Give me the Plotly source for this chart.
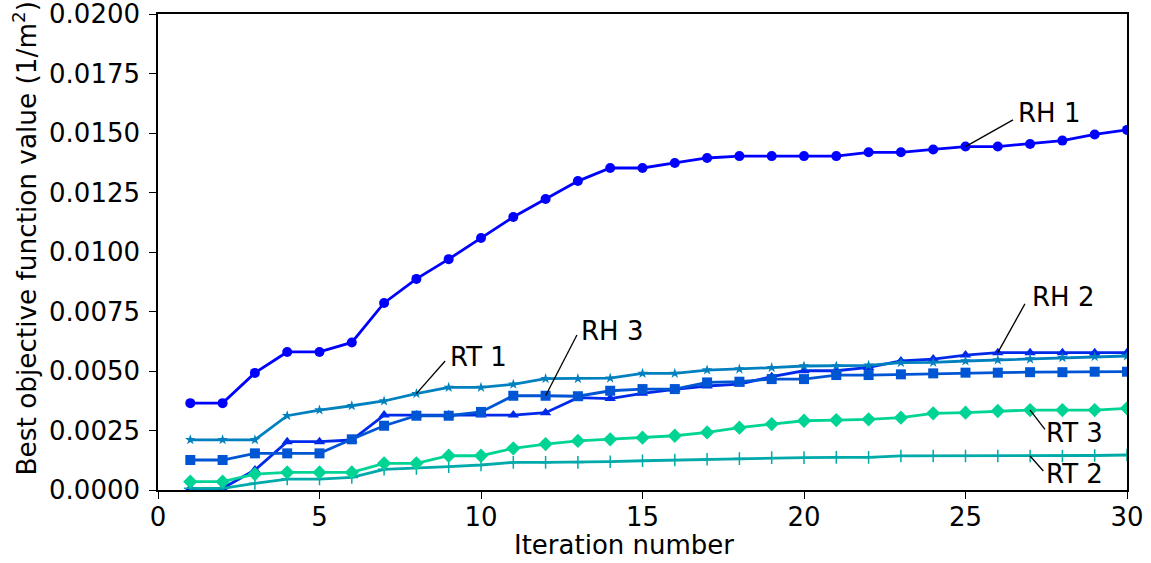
import plotly.graph_objects as go

# Iterations and best objective value reached per run
iterations = list(range(1, 31))

rh1 = [0.00365, 0.00365, 0.00492, 0.00580, 0.00580, 0.00620, 0.00786, 0.00887, 0.00970, 0.01059,
       0.01147, 0.01223, 0.01298, 0.01353, 0.01353, 0.01374, 0.01395, 0.01403, 0.01403, 0.01403,
       0.01403, 0.01419, 0.01419, 0.01431, 0.01443, 0.01443, 0.01454, 0.01468, 0.01494, 0.01513]

rh2 = [0.00007, 0.00007, 0.00084, 0.00203, 0.00203, 0.00210, 0.00315, 0.00315, 0.00315, 0.00315,
       0.00315, 0.00325, 0.00388, 0.00384, 0.00406, 0.00423, 0.00437, 0.00445, 0.00476, 0.00501,
       0.00501, 0.00515, 0.00542, 0.00550, 0.00567, 0.00577, 0.00577, 0.00577, 0.00577, 0.00577]

rh3 = [0.00126, 0.00126, 0.00154, 0.00154, 0.00154, 0.00213, 0.00270, 0.00312, 0.00312, 0.00328,
       0.00396, 0.00396, 0.00394, 0.00417, 0.00424, 0.00424, 0.00452, 0.00455, 0.00466, 0.00466,
       0.00483, 0.00483, 0.00486, 0.00490, 0.00493, 0.00493, 0.00495, 0.00495, 0.00497, 0.00497]

rt1 = [0.00211, 0.00211, 0.00211, 0.00312, 0.00336, 0.00354, 0.00374, 0.00405, 0.00431, 0.00431,
       0.00444, 0.00468, 0.00468, 0.00470, 0.00490, 0.00490, 0.00504, 0.00508, 0.00514, 0.00521,
       0.00521, 0.00524, 0.00535, 0.00536, 0.00542, 0.00546, 0.00550, 0.00556, 0.00560, 0.00563]

rt2 = [0.00007, 0.00007, 0.00028, 0.00046, 0.00046, 0.00053, 0.00087, 0.00091, 0.00098, 0.00105,
       0.00116, 0.00116, 0.00116, 0.00119, 0.00123, 0.00126, 0.00129, 0.00132, 0.00136, 0.00136,
       0.00137, 0.00137, 0.00143, 0.00143, 0.00143, 0.00143, 0.00143, 0.00143, 0.00145, 0.00147]

rt3 = [0.00035, 0.00035, 0.00067, 0.00074, 0.00074, 0.00074, 0.00112, 0.00112, 0.00144, 0.00144,
       0.00175, 0.00193, 0.00206, 0.00213, 0.00220, 0.00228, 0.00242, 0.00262, 0.00277, 0.00291,
       0.00294, 0.00297, 0.00304, 0.00322, 0.00325, 0.00332, 0.00336, 0.00336, 0.00336, 0.00343]

run_names = ["RH 1", "RH 2", "RH 3", "RT 1", "RT 2", "RT 3"]
run_values = [rh1, rh2, rh3, rt1, rt2, rt3]

x_title = "Iteration number"
y_title = "Best objective function value (1/m<sup>2</sup>)"

# Colours sampled evenly from a blue-to-green ("winter") ramp
colors = ["#0000ff", "#002aea", "#0055d4", "#0080bf", "#00aaaa", "#00d495"]
symbols = ["circle", "triangle-up", "square", "star", "cross-thin", "diamond"]
msizes = [10, 10, 10, 8, 9, 11]

# Label callouts: (run index, iteration it points at, line end x, line end y, text x, text y)
callouts = [
    (0, 25, 26.47, 0.01555, 26.55, 0.01584),
    (3, 8, 8.89, 0.00542, 8.97, 0.00559),
    (2, 12, 12.97, 0.00651, 13.03, 0.00668),
    (1, 26, 26.84, 0.00782, 26.99, 0.00811),
    (5, 27, 27.46, 0.00255, 27.44, 0.00239),
    (4, 27, 27.41, 0.00080, 27.44, 0.00067),
]

FONT = "DejaVu Sans"
FS = 26

fig = go.Figure()
for name, vals, col, sym, ms in zip(run_names, run_values, colors, symbols, msizes):
    marker = dict(symbol=sym, size=ms, color=col)
    if sym == "cross-thin":
        marker["line"] = dict(color=col, width=1.5)
    else:
        marker["line"] = dict(width=0)
    fig.add_trace(go.Scatter(
        x=iterations, y=vals, name=name, mode="lines+markers",
        line=dict(color=col, width=2.8), marker=marker,
    ))

shapes = []
annotations = []
for idx, it, lx, ly, tx, ty in callouts:
    shapes.append(dict(
        type="line", xref="x", yref="y",
        x0=it, y0=run_values[idx][it - 1], x1=lx, y1=ly,
        line=dict(color="black", width=1.3),
    ))
    annotations.append(dict(
        x=tx, y=ty, xref="x", yref="y", text=run_names[idx],
        showarrow=False, xanchor="left", yanchor="middle",
        font=dict(family=FONT, size=FS, color="black"),
    ))

# Axis titles placed as paper-referenced text
annotations.append(dict(
    x=0.481, y=-0.116, xref="paper", yref="paper", text=x_title,
    showarrow=False, xanchor="center", yanchor="middle",
    font=dict(family=FONT, size=FS, color="black"),
))
annotations.append(dict(
    x=-0.137, y=0.529, xref="paper", yref="paper", text=y_title,
    showarrow=False, xanchor="center", yanchor="middle", textangle=-90,
    font=dict(family=FONT, size=26.3, color="black"),
))

fig.update_layout(
    width=1151, height=563,
    margin=dict(l=158, r=24, t=14, b=73),
    paper_bgcolor="white", plot_bgcolor="white",
    showlegend=False,
    font=dict(family=FONT, size=FS, color="black"),
    shapes=shapes, annotations=annotations,
)
fig.update_xaxes(
    range=[0, 30], dtick=5, tick0=0, automargin=False,
    showgrid=False, zeroline=False,
    showline=True, linecolor="black", linewidth=1.5, mirror=True,
    ticks="outside", ticklen=7, tickwidth=1.3, tickcolor="black",
    tickfont=dict(size=FS), ticklabeloverflow="allow", ticklabelstandoff=-4,
)
fig.update_yaxes(
    range=[0, 0.02], dtick=0.0025, tick0=0, tickformat=".4f", automargin=False,
    showgrid=False, zeroline=False,
    showline=True, linecolor="black", linewidth=1.5, mirror=True,
    ticks="outside", ticklen=7, tickwidth=1.3, tickcolor="black",
    tickfont=dict(size=FS), ticklabeloverflow="allow", ticklabelstandoff=4,
)

fig.write_html("out.html")
